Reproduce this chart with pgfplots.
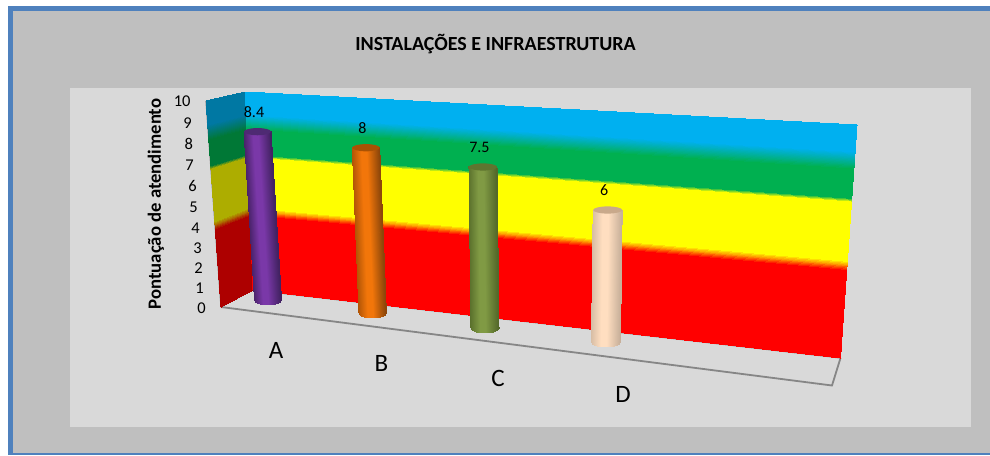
\documentclass[border=0pt]{standalone}
\usepackage{fontspec}
\setmainfont{Carlito}
\usepackage{pgfplots}
\usepackage{pgfplotstable}
\usepgfplotslibrary{patchplots}
\pgfplotsset{compat=1.18}

\definecolor{frameblue}{HTML}{4F81BD}
\definecolor{outergray}{HTML}{BFBFBF}
\definecolor{panelgray}{HTML}{D9D9D9}
\definecolor{floorline}{HTML}{868686}

% Score bands: red below 4, yellow to 7, green to 8.5, blue above
\pgfplotsset{
  colormap={wallback}{rgb255(0)=(255,0,0) rgb255(3.75)=(255,0,0) rgb255(4.15)=(255,255,0)
    rgb255(6.7)=(255,255,0) rgb255(6.85)=(0,176,80) rgb255(8.1)=(0,176,80)
    rgb255(8.85)=(0,176,240) rgb255(10)=(0,176,240)},
  colormap={wallside}{rgb255(0)=(173,0,0) rgb255(3.75)=(173,0,0) rgb255(4.15)=(173,173,0)
    rgb255(6.7)=(173,173,0) rgb255(6.85)=(0,120,54) rgb255(8.1)=(0,120,54)
    rgb255(8.85)=(0,120,163) rgb255(10)=(0,120,163)},
  colormap={cylA}{rgb255(0)=(72,34,104) rgb255(3.5)=(122,56,168) rgb255(5.5)=(122,56,168) rgb255(10)=(66,34,98)},
  colormap={cylB}{rgb255(0)=(176,84,6) rgb255(3.5)=(242,118,10) rgb255(5.5)=(242,118,10) rgb255(10)=(140,70,10)},
  colormap={cylC}{rgb255(0)=(90,112,44) rgb255(3.5)=(128,154,68) rgb255(5.5)=(128,154,68) rgb255(10)=(84,104,42)},
  colormap={cylD}{rgb255(0)=(214,188,164) rgb255(3.5)=(255,222,192) rgb255(5.5)=(255,222,192) rgb255(10)=(200,176,154)},
}

\pgfdeclareplotmark{cap}{\pgfpathellipse{\pgfpointorigin}{\pgfqpoint{\pgfplotmarksize}{0pt}}{\pgfqpoint{0pt}{3.6pt}}\pgfusepathqfill}

% Upright strips of a column: s runs across its width, t is 0 at the foot and 1 at the top
\pgfplotstableread{
s t
-1 0
-0.9 0
-0.9 1
-1 1
-0.9 0
-0.7 0
-0.7 1
-0.9 1
-0.7 0
-0.5 0
-0.5 1
-0.7 1
-0.5 0
-0.3 0
-0.3 1
-0.5 1
-0.3 0
-0.1 0
-0.1 1
-0.3 1
-0.1 0
0.1 0
0.1 1
-0.1 1
0.1 0
0.3 0
0.3 1
0.1 1
0.3 0
0.5 0
0.5 1
0.3 1
0.5 0
0.7 0
0.7 1
0.5 1
0.7 0
0.9 0
0.9 1
0.7 1
0.9 0
1 0
1 1
0.9 1
}\columnstrips

% One cylinder: #1 letter, #2 cap colour, #3 foot x, #4 foot y,
% #5 x drift per score unit, #6 y rise per score unit, #7 half width, #8 score
\newcommand{\cylinder}[8]{%
  \addplot[patch, patch type=bilinear, shader=interp, colormap name=cyl#1, point meta=explicit]
    table[x expr={#3+\thisrow{s}*#7+\thisrow{t}*#8*#5},
          y expr={#4+\thisrow{t}*#8*#6+(1-\thisrow{t})*5*sqrt(1-\thisrow{s}*\thisrow{s})},
          meta expr={5*(\thisrow{s}+1)}] {\columnstrips};
  \addplot[only marks, mark=cap, mark size=#7pt, color=#2,
      nodes near coords, point meta=explicit symbolic,
      every node near coord/.style={anchor=center, xshift=-3.5pt, yshift=20pt, text=black, font=\fontsize{16}{16}\selectfont}]
    table[row sep=\\, x expr={#3+\thisrow{v}*#5}, y expr={#4+\thisrow{v}*#6}, meta=v] {v\\#8\\};
}

% Corners of a wall as x and y at score 0 and the change per score unit
\newcommand{\wallx}{((1-\thisrow{s})*(\wallAx+\thisrow{v}*\wallAdx)+\thisrow{s}*(\wallBx+\thisrow{v}*\wallBdx))}
\newcommand{\wally}{((1-\thisrow{s})*(\wallAy+\thisrow{v}*\wallAdy)+\thisrow{s}*(\wallBy+\thisrow{v}*\wallBdy))}

% Strips of a wall, finer through the colour changes
\pgfplotstableread{
s v
0 0
1 0
1 3.75
0 3.75
0 3.75
1 3.75
1 3.85
0 3.85
0 3.85
1 3.85
1 3.95
0 3.95
0 3.95
1 3.95
1 4.05
0 4.05
0 4.05
1 4.05
1 4.15
0 4.15
0 4.15
1 4.15
1 6.7
0 6.7
0 6.7
1 6.7
1 6.85
0 6.85
0 6.85
1 6.85
1 8.1
0 8.1
0 8.1
1 8.1
1 8.3
0 8.3
0 8.3
1 8.3
1 8.5
0 8.5
0 8.5
1 8.5
1 8.7
0 8.7
0 8.7
1 8.7
1 8.85
0 8.85
0 8.85
1 8.85
1 10
0 10
}\wallstrips

\begin{document}
\begin{tikzpicture}
\begin{axis}[
  scale only axis, width=990pt, height=455pt,
  xmin=0, xmax=990, ymin=0, ymax=455, y dir=reverse,
  hide axis, clip=true, point meta min=0, point meta max=10,
]
  % frame and panels
  \addplot[fill=white, draw=none] coordinates {(0,0) (990,0) (990,455) (0,455)} --cycle;
  \addplot[fill=frameblue, draw=none] coordinates {(8,6) (990,6) (990,455) (8,455)} --cycle;
  \addplot[fill=outergray, draw=none] coordinates {(13,11) (990,11) (990,453) (13,453)} --cycle;
  \addplot[fill=panelgray, draw=none] coordinates {(70,88) (971,88) (971,427) (70,427)} --cycle;

  % floor outline
  \addplot[draw=floorline, line width=1.8pt] coordinates {(221,307) (832,385.5) (840.5,358)};
  \addplot[draw=floorline!70!panelgray, line width=0.8pt] coordinates {(221,307) (253,290)};
  \addplot[draw=floorline, line width=1.2pt] coordinates {(253,290) (840.5,358)};
  \addplot[draw=floorline, line width=1.2pt] coordinates {(206,101) (221,307)};

  % side wall and back wall, shaded by score
  \def\wallAx{221}\def\wallAdx{-1.5}\def\wallAy{307}\def\wallAdy{-20.6}
  \def\wallBx{253}\def\wallBdx{-0.75}\def\wallBy{290}\def\wallBdy{-19.8}
  \addplot[patch, patch type=bilinear, shader=interp, colormap name=wallside, point meta=explicit]
    table[x expr={\wallx}, y expr={\wally}, meta=v] {\wallstrips};
  \def\wallAx{253}\def\wallAdx{-0.75}\def\wallAy{290}\def\wallAdy{-19.8}
  \def\wallBx{840.5}\def\wallBdx{1.65}\def\wallBy{358}\def\wallBdy{-23.3}
  \addplot[patch, patch type=bilinear, shader=interp, colormap name=wallback, point meta=explicit]
    table[x expr={\wallx}, y expr={\wally}, meta=v] {\wallstrips};

  % score columns
  \definecolor{capA}{RGB}{78,42,115}
  \definecolor{capB}{RGB}{169,82,4}
  \definecolor{capC}{RGB}{95,117,48}
  \definecolor{capD}{RGB}{201,169,139}
  \cylinder{A}{capA}{268}{300}{-1.25}{-20.04}{13.5}{8.4}
  \cylinder{B}{capB}{372.7}{313}{-0.84}{-20.66}{13.7}{8}
  \cylinder{C}{capC}{485}{328}{-0.27}{-21.47}{14}{7.5}
  \cylinder{D}{capD}{606}{342}{0.28}{-22}{14.5}{6}

  % score scale beside the side wall
  \foreach \t/\xx/\yy in {0/206/308,1/204/288,2/203/268,3/202/248,4/200/228,5/198/207,6/197/186,7/194/165,8/193.3/144,9/192/123,10/190.7/101}{
    \edef\doit{\noexpand\node[anchor=east, inner sep=0pt, font=\noexpand\fontsize{16.5}{16.5}\noexpand\selectfont] at (axis cs:\xx,\yy) {\t};}
    \doit
  }

  % category names
  \node[font=\fontsize{25}{25}\selectfont] at (axis cs:276,350) {A};
  \node[font=\fontsize{25}{25}\selectfont] at (axis cs:381.5,363) {B};
  \node[font=\fontsize{25}{25}\selectfont] at (axis cs:498,378) {C};
  \node[font=\fontsize{25}{25}\selectfont] at (axis cs:623,394) {D};

  % titles
  \node[font=\fontsize{20}{20}\selectfont\bfseries] at (axis cs:495.5,44) {INSTALAÇÕES E INFRAESTRUTURA};
  \node[rotate=90, font=\fontsize{18.7}{18.7}\selectfont\bfseries] at (axis cs:156,204) {Pontuação de atendimento};
\end{axis}
\end{tikzpicture}
\end{document}
